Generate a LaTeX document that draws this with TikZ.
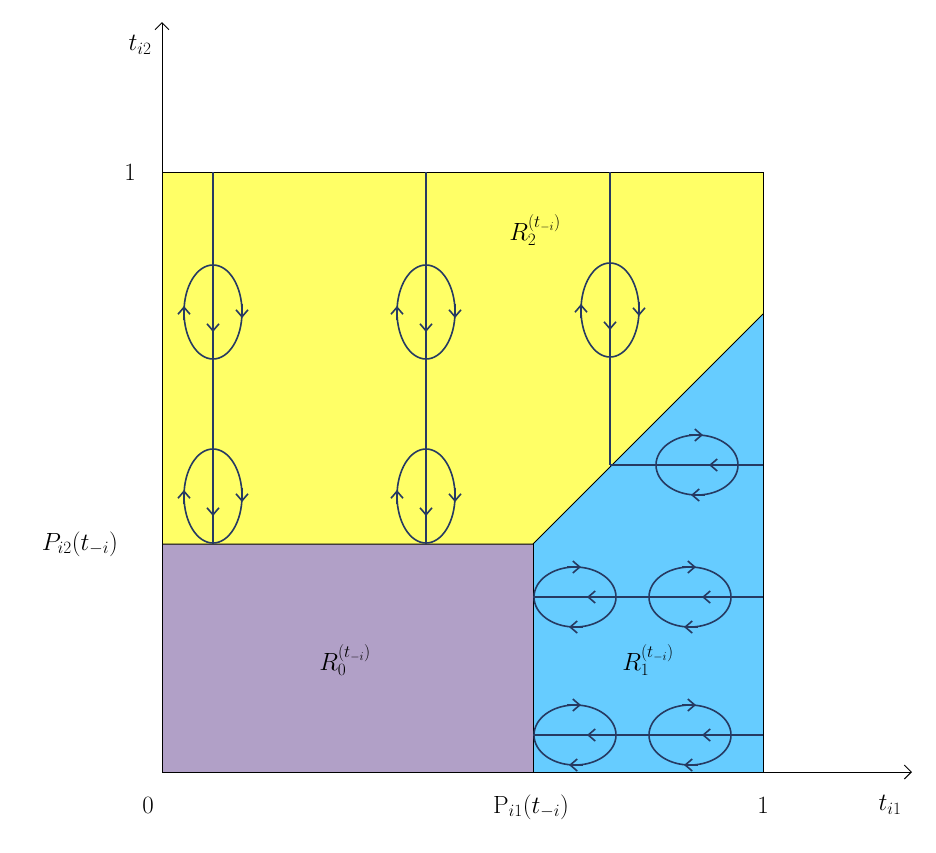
\documentclass[tikz,border=0pt]{standalone}
\usetikzlibrary{arrows.meta}
\definecolor{nav}{RGB}{38,58,98}
\definecolor{yel}{RGB}{255,255,102}
\definecolor{blu}{RGB}{102,204,255}
\definecolor{pur}{RGB}{177,160,199}
\begin{document}
\begin{tikzpicture}[x=1pt,y=-1pt,
  flow/.style={draw=nav,line width=1.6pt},
  tip/.style={nav,line width=1.6pt,-{Straight Barb[length=7pt,width=12pt]}},
  lbl/.style={font=\fontsize{24}{28}\selectfont}]
\useasboundingbox (0,0) rectangle (936,852);
\fill[pur] (162,772) -- (162,544) -- (533,544) -- (533,772) -- cycle;
\fill[yel] (162,544) -- (162,172) -- (763,172) -- (763,314) -- (533,544) -- cycle;
\fill[blu] (533,772) -- (533,544) -- (763,314) -- (763,772) -- cycle;
\draw[line width=1pt] (162,544) -- (533,544) -- (763,314);
\draw[line width=1pt] (533,544) -- (533,772);
\draw[line width=1pt] (162,172) -- (763,172) -- (763,772);
\draw[line width=1pt,-{Straight Barb[length=7pt,width=14pt]}] (162,772) -- (912,772);
\draw[line width=1pt,-{Straight Barb[length=7pt,width=14pt]}] (162,772) -- (162,22);
% vertical flows
\coordinate (v1a) at (213,172); \coordinate (v1b) at (213,544);
\coordinate (v2a) at (426,172); \coordinate (v2b) at (426,544);
\coordinate (v3a) at (610,172); \coordinate (v3b) at (610,465);
\draw[flow] (v1a) -- (v1b); \draw[flow] (v2a) -- (v2b); \draw[flow] (v3a) -- (v3b);
\foreach \cx/\cy in {213/312,213/496,426/312,426/496,610/310}{
  \draw[flow] (\cx,\cy) ellipse [x radius=29,y radius=47];
  \draw[tip] (\cx,\cy+6) -- (\cx,\cy+20);
  \draw[tip] (\cx-29,\cy+8) -- (\cx-29,\cy-6);
  \draw[tip] (\cx+29,\cy-8) -- (\cx+29,\cy+6);
}
% horizontal flows
\coordinate (h1a) at (763,465); \coordinate (h1b) at (610,465);
\coordinate (h2a) at (763,597); \coordinate (h2b) at (533,597);
\coordinate (h3a) at (763,735); \coordinate (h3b) at (533,735);
\draw[flow] (h1a) -- (h1b); \draw[flow] (h2a) -- (h2b); \draw[flow] (h3a) -- (h3b);
\foreach \cx/\cy in {697/465,575/597,690/597,575/735,690/735}{
  \draw[flow] (\cx,\cy) ellipse [x radius=41,y radius=30];
  \draw[tip] (\cx+26,\cy) -- (\cx+12,\cy);
  \draw[tip] (\cx-8,\cy-30) -- (\cx+6,\cy-30);
  \draw[tip] (\cx+8,\cy+30) -- (\cx-6,\cy+30);
}
% labels
\node[lbl] (ly) at (140,45) {$t_{i2}$};
\node[lbl] (lx) at (890,805) {$t_{i1}$};
\node[lbl] (l0) at (148,805) {$0$};
\node[lbl] (l1x) at (763,805) {$1$};
\node[lbl] (l1y) at (130,172) {$1$};
\node[lbl] (lp2) at (80,544) {$P_{i2}(t_{-i})$};
\node[lbl] (lp1) at (531,807) {$\mathrm{P}_{i1}(t_{-i})$};
\node[lbl] (r0) at (345,660) {$R_0^{(t_{-i})}$};
\node[lbl] (r1) at (648,660) {$R_1^{(t_{-i})}$};
\node[lbl] (r2) at (535,230) {$R_2^{(t_{-i})}$};
\end{tikzpicture}
\end{document}
